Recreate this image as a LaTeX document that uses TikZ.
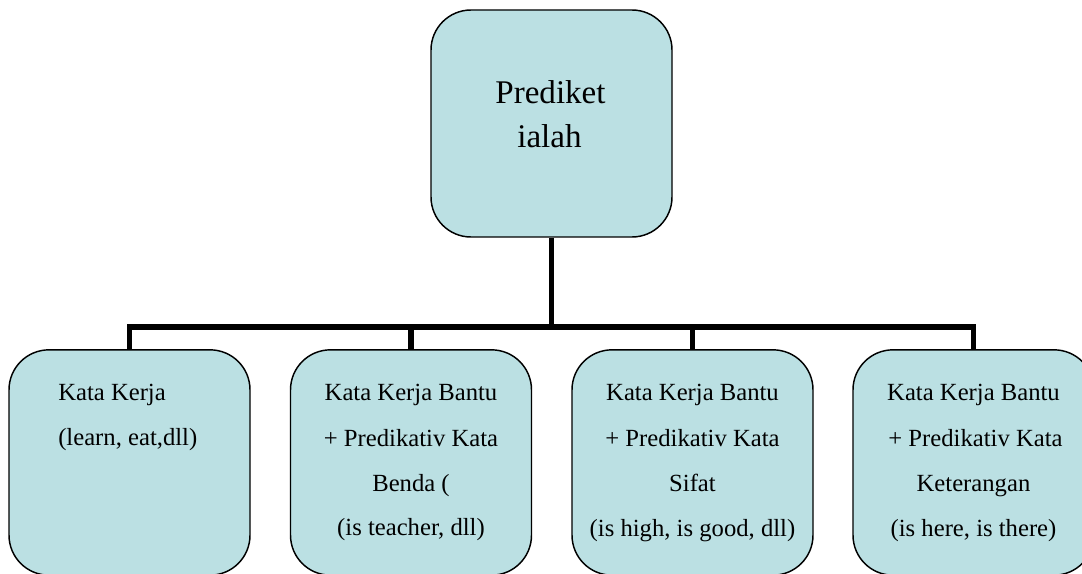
\documentclass[tikz,border=0pt]{standalone}
\usepackage{fontspec}
\setmainfont{Liberation Serif}
\definecolor{boxfill}{RGB}{187,224,227}
\tikzset{
  box/.style={draw=black, line width=1.1pt, fill=boxfill, rounded corners=30pt,
    minimum width=180.75pt, minimum height=169pt, inner sep=0pt},
  topbox/.style={box, minimum height=170.25pt},
  conn/.style={draw=black, line width=4.3pt, line join=miter},
  bigtxt/.style={inner sep=0pt, anchor=base, font=\fontsize{24.8}{30}\selectfont},
  txt/.style={inner sep=0pt, anchor=base, font=\fontsize{18.5}{22}\selectfont},
}
\begin{document}
\begin{tikzpicture}[x=0.75pt, y=-0.75pt]
\useasboundingbox (0,0) rectangle (1082,574);
\clip (0,0) rectangle (1082,574);
\fill[white] (0,0) rectangle (1082,574);
% boxes
\node[topbox] (top) at (551.5,123.5) {};
\node[box] (b1) at (129.5,462.5) {};
\node[box] (b2) at (411,462.5) {};
\node[box] (b3) at (692.5,462.5) {};
\node[box] (b4) at (973.5,462.5) {};
\coordinate (bus) at (551.5,327);
% connectors
\draw[conn] (top.south) -- (bus);
\draw[conn] (b1.north) |- (bus);
\draw[conn] (b4.north) |- (bus);
\draw[conn] (b2.north) -- (b2.north |- bus);
\draw[conn] (b3.north) -- (b3.north |- bus);
% top text
\node[bigtxt] (ta) at (550.5,103.3) {Prediket};
\node[bigtxt] (tb) at (549.5,147.5) {ialah};
% box 1
\node[txt, anchor=base west] (a1) at (58,400.7) {Kata Kerja};
\node[txt, anchor=base west] (a2) at (58,445.7) {(learn, eat,dll)};
% box 2
\node[txt] (c1) at (411,400.5) {Kata Kerja Bantu};
\node[txt] (c2) at (411,446) {+ Predikativ Kata};
\node[txt] (c3) at (411,491.5) {Benda (};
\node[txt] (c4) at (411,535.5) {(is teacher, dll)};
% box 3
\node[txt] (d1) at (692.5,400.5) {Kata Kerja Bantu};
\node[txt] (d2) at (692.5,446) {+ Predikativ Kata};
\node[txt] (d3) at (692.5,491.5) {Sifat};
\node[txt] (d4) at (692.5,536.5) {(is high, is good, dll)};
% box 4
\node[txt] (e1) at (973.5,400.5) {Kata Kerja Bantu};
\node[txt] (e2) at (975.5,446) {+ Predikativ Kata};
\node[txt] (e3) at (973.5,491.5) {Keterangan};
\node[txt] (e4) at (973.5,536.5) {(is here, is there)};
\end{tikzpicture}
\end{document}
